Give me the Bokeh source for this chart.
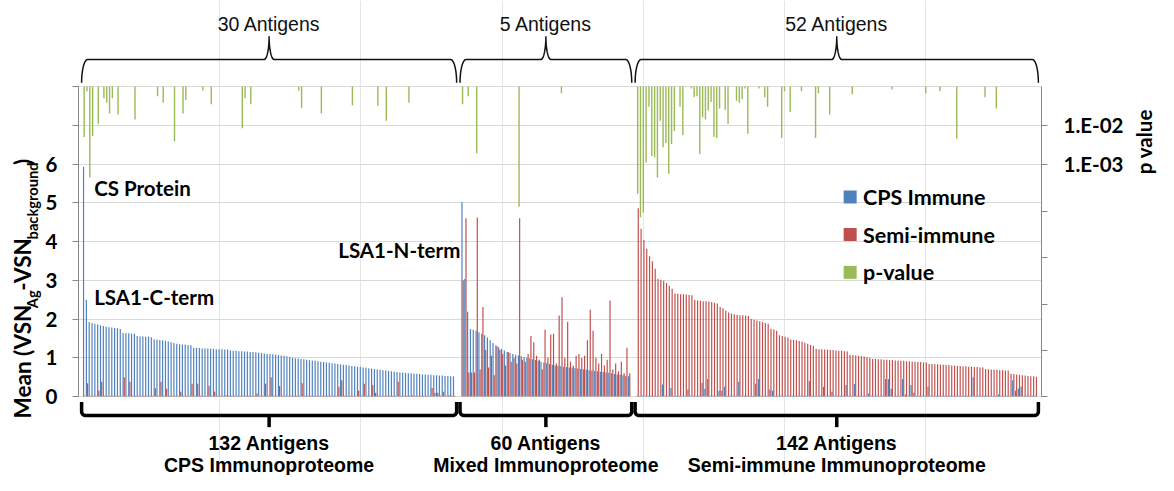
import numpy as np
from bokeh.plotting import figure
from bokeh.layouts import row
from bokeh.models import Range1d, LogScale, LinearAxis, FixedTicker, Grid, CustomJSTickFormatter
from bokeh.core.properties import value
from bokeh.embed import file_html
from bokeh.resources import INLINE

# ---------------- data ----------------
group_names = ["CPS Immunoproteome", "Mixed Immunoproteome", "Semi-immune Immunoproteome"]
group_counts = [132, 60, 142]
sig_counts = [30, 5, 52]
series_names = ["CPS Immune", "Semi-immune", "p-value"]

cps_g1 = [5.93, 2.50,
          1.92, 1.90, 1.88, 1.86, 1.84, 1.82, 1.80, 1.79, 1.78, 1.77, 1.76, 1.74,
          1.64, 1.63, 1.63, 1.62, 1.62,
          1.56, 1.55, 1.55, 1.54, 1.54, 1.53,
          1.48, 1.47, 1.46, 1.45, 1.44, 1.42, 1.40, 1.38, 1.36,
          1.35, 1.34, 1.34, 1.33, 1.32,
          1.26, 1.25, 1.25, 1.24, 1.24, 1.24, 1.23, 1.23, 1.22, 1.22, 1.22, 1.21, 1.21,
          1.19, 1.18, 1.18, 1.17, 1.17, 1.16, 1.16, 1.15, 1.15, 1.14, 1.13, 1.12,
          1.11, 1.10, 1.10, 1.09, 1.08, 1.07, 1.06, 1.05,
          1.04, 1.02, 1.00, 0.99,
          0.98, 0.97, 0.96, 0.95, 0.94, 0.93, 0.92, 0.91, 0.90, 0.89,
          0.88, 0.87, 0.86, 0.85, 0.84, 0.83, 0.82, 0.81, 0.80, 0.79,
          0.78, 0.77, 0.76, 0.75, 0.74, 0.73, 0.72, 0.71, 0.70, 0.69,
          0.68, 0.67, 0.66, 0.65, 0.64, 0.63, 0.62, 0.62, 0.61, 0.60,
          0.60, 0.59, 0.59, 0.58, 0.57, 0.57, 0.56, 0.56, 0.55, 0.55,
          0.54, 0.54, 0.53, 0.53, 0.52, 0.52]
semi_g1 = [0.02, 0.34, 0.02, 0.02, 0.02, 0.15, 0.38, 0.02, 0.02, 0.02,
           0.02, 0.02, 0.02, 0.02, 0.50, 0.02, 0.38, 0.02, 0.02, 0.02,
           0.02, 0.02, 0.02, 0.02, 0.02, 0.21, 0.02, 0.38, 0.02, 0.20,
           0.02, 0.02, 0.02, 0.02, 0.12, 0.02, 0.02, 0.02, 0.33, 0.02,
           0.33, 0.02, 0.02, 0.02, 0.28, 0.02, 0.12, 0.02, 0.02, 0.02,
           0.03, 0.02, 0.02, 0.02, 0.02, 0.02, 0.02, 0.02, 0.02, 0.02,
           0.02, 0.08, 0.02, 0.02, 0.33, 0.02, 0.50, 0.02, 0.02, 0.27,
           0.02, 0.02, 0.02, 0.02, 0.02, 0.02, 0.02, 0.34, 0.02, 0.02,
           0.02, 0.02, 0.02, 0.02, 0.02, 0.02, 0.02, 0.02, 0.02, 0.02,
           0.25, 0.42, 0.02, 0.02, 0.02, 0.02, 0.02, 0.15, 0.02, 0.33,
           0.02, 0.02, 0.30, 0.10, 0.02, 0.02, 0.02, 0.02, 0.02, 0.02,
           0.02, 0.38, 0.02, 0.02, 0.02, 0.02, 0.03, 0.02, 0.02, 0.02,
           0.02, 0.02, 0.02, 0.22, 0.10, 0.10, 0.02, 0.12, 0.02, 0.03,
           0.02, 0.02]

cps_g2 = [5.02, 3.03, 2.19, 1.74, 1.72, 1.70, 1.66, 1.62, 1.58, 1.52,
          1.45, 1.38, 1.32, 1.27, 1.23, 1.19, 1.15, 1.12, 1.10, 1.08,
          1.06, 1.04, 1.02, 1.00, 0.98, 0.96, 0.94, 0.92, 0.90, 0.88,
          0.86, 0.84, 0.82, 0.80, 0.79, 0.78, 0.77, 0.76, 0.75, 0.74,
          0.73, 0.72, 0.71, 0.70, 0.69, 0.68, 0.67, 0.66, 0.65, 0.64,
          0.63, 0.62, 0.61, 0.60, 0.58, 0.57, 0.56, 0.55, 0.53, 0.52]
semi_g2 = [3.00, 4.60, 0.62, 0.62, 0.62, 4.62, 0.70, 2.31, 1.20, 0.75,
           1.05, 0.55, 1.30, 1.20, 1.10, 0.80, 1.15, 0.90, 1.00, 0.85,
           4.60, 0.95, 0.90, 1.10, 1.56, 1.40, 1.05, 0.95, 0.70, 1.72,
           1.00, 1.60, 1.62, 0.85, 2.09, 2.56, 1.00, 1.93, 0.90, 0.80,
           1.05, 1.10, 1.00, 1.05, 1.45, 2.24, 1.70, 1.00, 0.85, 1.10,
           0.80, 0.95, 2.48, 0.70, 0.85, 0.65, 0.90, 0.60, 1.26, 0.60]

cps_g3 = [0.02, 0.02, 0.02, 0.02, 0.02, 0.02, 0.02, 0.02, 0.02, 0.31,
          0.02, 0.02, 0.22, 0.02, 0.02, 0.02, 0.02, 0.02, 0.18, 0.02,
          0.02, 0.02, 0.02, 0.35, 0.20, 0.45, 0.02, 0.02, 0.02, 0.15,
          0.15, 0.25, 0.02, 0.02, 0.02, 0.02, 0.38, 0.02, 0.02, 0.02,
          0.02, 0.02, 0.33, 0.45, 0.02, 0.02, 0.02, 0.18, 0.15, 0.02,
          0.02, 0.02, 0.02, 0.02, 0.02, 0.02, 0.02, 0.02, 0.02, 0.02,
          0.02, 0.40, 0.02, 0.02, 0.02, 0.02, 0.25, 0.02, 0.02, 0.12,
          0.02, 0.02, 0.02, 0.02, 0.30, 0.02, 0.02, 0.32, 0.02, 0.02,
          0.02, 0.02, 0.08, 0.02, 0.02, 0.02, 0.02, 0.02, 0.45, 0.45,
          0.20, 0.02, 0.02, 0.02, 0.45, 0.05, 0.02, 0.30, 0.10, 0.02,
          0.02, 0.02, 0.02, 0.25, 0.02, 0.02, 0.02, 0.02, 0.02, 0.02,
          0.02, 0.02, 0.02, 0.02, 0.02, 0.02, 0.02, 0.02, 0.02, 0.50,
          0.02, 0.02, 0.02, 0.02, 0.02, 0.02, 0.02, 0.02, 0.05, 0.02,
          0.02, 0.02, 0.02, 0.42, 0.15, 0.20, 0.25, 0.02, 0.02, 0.02,
          0.02, 0.02]
semi_g3 = [4.86, 4.33, 4.04, 3.81, 3.62, 3.49, 3.30,
           3.03, 3.01, 2.99, 2.93, 2.86, 2.78,
           2.66, 2.65, 2.64, 2.64, 2.63, 2.62, 2.61,
           2.49, 2.48, 2.47, 2.46, 2.46, 2.45, 2.44, 2.42, 2.40,
           2.31, 2.28, 2.22, 2.17, 2.14,
           2.12, 2.11, 2.10, 2.10, 2.09, 2.08,
           2.00, 1.98, 1.96, 1.94, 1.92, 1.90, 1.88,
           1.75, 1.73, 1.70,
           1.58, 1.56, 1.54, 1.52,
           1.47, 1.46, 1.45, 1.43, 1.41, 1.39, 1.36, 1.33, 1.31,
           1.23, 1.22, 1.22, 1.21, 1.21, 1.20, 1.20, 1.19, 1.18, 1.18, 1.17, 1.16,
           1.08, 1.07, 1.06, 1.05, 1.04, 1.03, 1.02, 1.00,
           0.97, 0.97, 0.96, 0.96, 0.95, 0.95, 0.94, 0.94, 0.93, 0.93,
           0.92, 0.92, 0.91, 0.91, 0.90, 0.90, 0.89, 0.89, 0.88, 0.88,
           0.84, 0.84, 0.83, 0.83, 0.82, 0.82, 0.81, 0.81, 0.80, 0.80,
           0.79, 0.79, 0.78, 0.78, 0.77, 0.77, 0.76, 0.76, 0.75, 0.75,
           0.71, 0.70, 0.70, 0.69, 0.69, 0.68, 0.68, 0.67, 0.67,
           0.59, 0.58, 0.57, 0.56, 0.55, 0.54, 0.53, 0.52, 0.52, 0.51]

# p-values (only significant antigens have a bar): index within group, p-value
pidx_g1 = [0, 1, 2, 3, 5, 7, 8, 9, 10, 12, 18, 26, 28, 32, 35, 36, 42, 45, 56, 57, 59,
           76, 77, 84, 95, 104, 107, 115]
pval_g1 = [5.0e-3, 7.5e-2, 4.5e-4, 5.3e-3, 1.1e-2, 5.0e-2, 3.8e-2, 2.0e-2, 5.0e-2, 1.9e-2,
           1.4e-2, 5.6e-2, 3.8e-2, 3.8e-3, 2.0e-2, 4.5e-2, 7.9e-2, 3.5e-2, 8.4e-3, 5.0e-2,
           3.5e-2, 7.9e-2, 2.8e-2, 2.0e-2, 3.3e-2, 3.2e-2, 1.3e-2, 3.8e-2]
pidx_g2 = [0, 2, 5, 20, 35]
pval_g2 = [3.5e-2, 5.6e-2, 1.9e-3, 7.9e-5, 6.7e-2]
pidx_g3 = [0, 1, 2, 3, 4, 5, 6, 7, 8, 9, 10, 11, 12, 13, 15, 16, 19, 20, 21, 22, 23, 24,
           25, 26, 27, 28, 29, 31, 32, 35, 36, 37, 38, 39, 43, 45, 46, 51, 52, 54, 58, 63,
           64, 68, 76, 90, 102, 107, 113, 123, 127]
pval_g3 = [1.7e-4, 4.2e-5, 5.6e-5, 1.1e-3, 3.0e-2, 1.6e-3, 1.5e-3, 4.5e-4, 1.3e-2, 2.7e-3,
           3.5e-3, 5.6e-4, 3.3e-3, 7.1e-3, 3.0e-2, 5.6e-3, 8.9e-2, 5.3e-2, 5.6e-2, 1.8e-3,
           1.6e-2, 1.4e-2, 2.4e-2, 4.0e-2, 5.0e-3, 4.7e-3, 2.7e-2, 2.5e-2, 1.1e-2, 4.2e-2,
           3.8e-2, 4.7e-2, 8.9e-2, 6.0e-3, 8.9e-2, 5.3e-2, 3.0e-2, 4.7e-3, 7.5e-2, 2.2e-2,
           7.5e-2, 4.7e-3, 6.7e-2, 1.9e-2, 6.3e-2, 8.4e-2, 6.7e-2, 7.5e-2, 4.5e-3, 5.3e-2,
           2.7e-2]

left_ticks = [0, 1, 2, 3, 4, 5, 6]
y_title_pieces = ["Mean (VSN", "Ag", "-VSN", "background", ")"]
p_title = "p value"

# ---------------- layout / style ----------------
BLUE, RED, GREEN = "#4F81BD", "#C0504D", "#9BBB59"
AX = "#868686"
W, H = 1158, 475
SX, SY = W / 1174, H / 491      # design grid (1174x491) -> canvas


def X(r):
    return r * SX


def Y(r):
    return r * SY


def fs(px):
    return f"{px * (SX + SY) / 2:.1f}px"


LW, RW = 42, 30                 # side figures for rotated titles
MW = W - LW - RW
FL, FR = round(X(77)), round(X(1055))    # frame left / right (canvas px)
PT, PB = round(Y(89)), round(Y(409))     # canvas px of y=8 and y=0
YMAX = 8
X_SLOTS = 341
PPU = (PB - PT) / YMAX
PPX = (FR - FL) / X_SLOTS
P_TOP_LOG = -1.0                # log10 of p at top of plot
PPD = PPU                       # px per decade on p axis
G_OFF = [2, 136, 198]


def dx(cx):
    return (cx - FL) / PPX


def dy(cy):
    return YMAX - (cy - PT) / PPU


def cx_of(x):
    return FL + x * PPX


def side_fig(w):
    f = figure(width=w, height=H, x_range=Range1d(0, w), y_range=Range1d(0, H),
               x_axis_location=None, y_axis_location=None, toolbar_location=None,
               output_backend="svg", min_border=0, outline_line_color=None,
               background_fill_color="white", border_fill_color="white")
    f.xgrid.visible = False
    f.ygrid.visible = False
    return f


p = figure(width=MW, height=H, x_range=Range1d(0, X_SLOTS),
           y_range=Range1d(-(H - PB) / PPU, YMAX + PT / PPU),
           x_axis_location=None, y_axis_location=None, toolbar_location=None,
           output_backend="svg", min_border_left=FL - LW, min_border_right=LW + MW - FR,
           min_border_top=0, min_border_bottom=0, outline_line_color=None,
           background_fill_color="white", border_fill_color="white")

# left axis + grid
yt = FixedTicker(ticks=left_ticks, minor_ticks=[7, 8])
yax = LinearAxis(ticker=yt, bounds=(0, YMAX), axis_line_color=AX,
                 major_tick_line_color=AX, minor_tick_line_color=AX,
                 major_tick_out=6, major_tick_in=0, minor_tick_out=6, minor_tick_in=0,
                 major_label_standoff=15, major_label_text_font="Lato",
                 major_label_text_font_style="bold", major_label_text_font_size=fs(21),
                 major_label_text_color="#000000")
p.add_layout(yax, "left")
p.add_layout(Grid(dimension=1, ticker=yt, grid_line_color="#d9d9d9",
                  minor_grid_line_color="#d9d9d9"), "center")

# right (p-value, log) axis
p_lo = 10 ** (P_TOP_LOG - (H - PT) / PPD)
p_hi = 10 ** (P_TOP_LOG + PT / PPD)
p.extra_y_ranges = {"p": Range1d(start=p_lo, end=p_hi)}
p.extra_y_scales = {"p": LogScale()}
minor_p = [10 ** (P_TOP_LOG - (Y(r) - PT) / PPD) for r in (218, 266, 314, 362, 409)]
pax = LinearAxis(y_range_name="p",
                 ticker=FixedTicker(ticks=[1e-2, 1e-3], minor_ticks=minor_p),
                 bounds=(10 ** (P_TOP_LOG - (PB - PT) / PPD), 10 ** P_TOP_LOG),
                 formatter=CustomJSTickFormatter(code="""
                     const e = Math.round(-Math.log10(tick));
                     return '1.E-' + (e < 10 ? '0' + e : '' + e);"""),
                 axis_line_color=AX, major_tick_line_color=AX, minor_tick_line_color=AX,
                 major_tick_out=6, major_tick_in=0, minor_tick_out=6, minor_tick_in=0,
                 major_label_standoff=16, major_label_text_font="Lato",
                 major_label_text_font_style="bold", major_label_text_font_size=fs(21),
                 major_label_text_color="#000000")
p.add_layout(pax, "right")

# bars
xs, blue, red = [], [], []
for off, b, r in zip(G_OFF, [cps_g1, cps_g2, cps_g3], [semi_g1, semi_g2, semi_g3]):
    xs += [off + i for i in range(len(b))]
    blue += b
    red += r
p.vbar(x=[x - 0.21 for x in xs], width=0.42, bottom=0, top=blue,
       fill_color=BLUE, line_color=None)
p.vbar(x=[x + 0.21 for x in xs], width=0.42, bottom=0, top=red,
       fill_color=RED, line_color=None)

gx, gp = [], []
for off, ii, pv in zip(G_OFF, [pidx_g1, pidx_g2, pidx_g3], [pval_g1, pval_g2, pval_g3]):
    gx += [off + i for i in ii]
    gp += pv
p.vbar(x=gx, width=0.5, top=10 ** P_TOP_LOG, bottom=gp, y_range_name="p",
       fill_color=GREEN, line_color=None)

# annotations near bars
TXT = dict(text_font=value("Lato"), text_font_style="bold", text_color="#000000",
           text_baseline="middle")
p.text(x=[dx(X(93)), dx(X(93))], y=[dy(Y(194)), dy(Y(306))],
       text=["CS Protein", "LSA1-C-term"], text_font_size=fs(21), text_align="left", **TXT)
p.text(x=[dx(X(465))], y=[dy(Y(258))], text=["LSA1-N-term"], text_font_size=fs(21),
       text_align="right", **TXT)

# legend
leg_y = [dy(Y(203)), dy(Y(242)), dy(Y(281))]
p.scatter(x=[dx(X(861))] * 3, y=leg_y, marker="square", size=13,
          fill_color=[BLUE, RED, GREEN], line_color=None)
p.text(x=[dx(X(874))] * 3, y=leg_y, text=series_names, text_font_size=fs(22),
       text_align="left", **TXT)


# braces / brackets
def ell(cx, cy, rx, ry, a0, a1, n=14):
    t = np.linspace(a0, a1, n)
    return list(cx + rx * np.cos(t)), list(cy + ry * np.sin(t))


def top_brace(L, R, C, yh, yend, ytip, re=6, rc=5):
    xs_, ys_ = [], []
    for a, b in (ell(L + re, yend, re, yend - yh, np.pi, 1.5 * np.pi),
                 ell(C - rc, ytip, rc, yh - ytip, 0.5 * np.pi, 0),
                 ell(C + rc, ytip, rc, yh - ytip, np.pi, 0.5 * np.pi),
                 ell(R - re, yend, re, yend - yh, 1.5 * np.pi, 2 * np.pi)):
        xs_ += a
        ys_ += b
    return xs_, ys_


def bottom_bracket(L, R, ytop, yh, r=4):
    xs_, ys_ = [L], [ytop]
    for a, b in (ell(L + r, yh - r, r, r, np.pi, 0.5 * np.pi),
                 ell(R - r, yh - r, r, r, 0.5 * np.pi, 0)):
        xs_ += a
        ys_ += b
    xs_.append(R)
    ys_.append(ytop)
    return xs_, ys_


for off, n, k, name in zip(G_OFF, group_counts, sig_counts, group_names):
    L = cx_of(off - 0.9)
    R = cx_of(off + n - 1 + 0.9)
    C = cx_of(off + (n - 1) / 2)
    bx, by = top_brace(L, R, C, Y(61), Y(85), Y(37))
    p.line([dx(v) for v in bx], [dy(v) for v in by], line_color="#111111", line_width=1.5)
    bx, by = bottom_bracket(L, R, Y(415), Y(429))
    p.line([dx(v) for v in bx], [dy(v) for v in by], line_color="#000000", line_width=3.5,
           line_join="round")
    p.line([dx(C), dx(C)], [dy(Y(429)), dy(Y(441))], line_color="#000000", line_width=3.5)
    p.text(x=[dx(C)], y=[dy(Y(24))], text=[f"{k} Antigens"],
           text_font=value("Liberation Sans"), text_font_size=fs(20), text_align="center",
           text_baseline="middle", text_color="#111111")
    p.text(x=[dx(C), dx(C)], y=[dy(Y(457)), dy(Y(480))], text=[f"{n} Antigens", name],
           text_font=value("Liberation Sans"), text_font_style="bold",
           text_font_size=fs(20), text_align="center", text_baseline="middle",
           text_color="#000000")

# y-axis title with subscripts (rotated pieces) in a narrow left figure
lf = side_fig(LW)
sizes = [23, 15, 23, 15, 23]
mid_x = [22, 31, 22, 31, 22]            # canvas px of each piece's middle line
start_y = [432, 318, 300, 247, 170]     # design px where each piece starts
for txt, s, mx, sy in zip(y_title_pieces, sizes, mid_x, start_y):
    lf.text(x=[mx], y=[H - Y(sy)], text=[txt], angle=np.pi / 2, text_align="left",
            text_baseline="middle", text_font=value("Lato"), text_font_style="bold",
            text_font_size=fs(s), text_color="#000000")

# p-value title in a narrow right figure
rf = side_fig(RW)
rf.text(x=[RW / 2], y=[H - Y(146)], text=[p_title], angle=np.pi / 2, text_align="center",
        text_baseline="middle", text_font=value("Lato"), text_font_style="bold",
        text_font_size=fs(21), text_color="#000000")

layout = row(lf, p, rf, spacing=0)
open("out.html", "w").write(file_html(layout, INLINE))
